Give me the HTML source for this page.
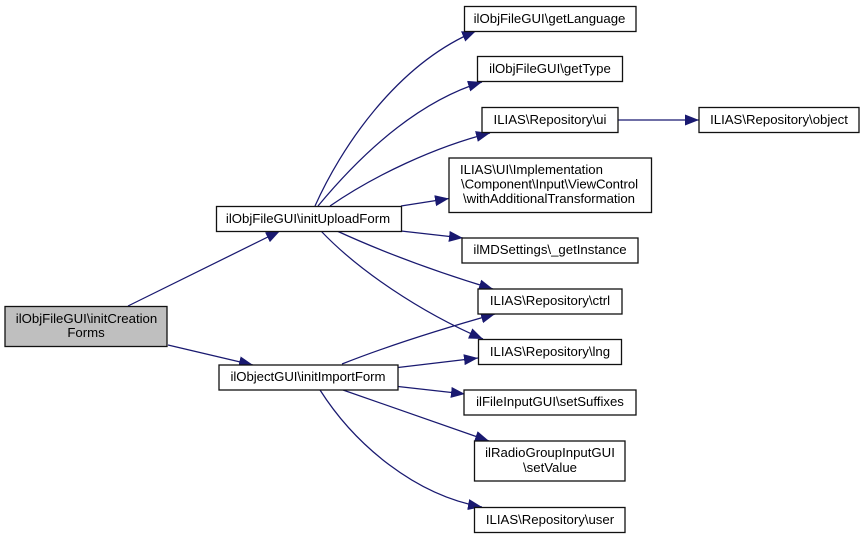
<!DOCTYPE html>
<html><head><meta charset="utf-8">
<style>
html,body{margin:0;padding:0;background:#fff}
svg{display:block}
text{font-family:"Liberation Sans",sans-serif;font-size:13.2px;fill:#000;text-anchor:middle}
rect{fill:#fff;stroke:#111;stroke-width:1.3}
path.e{fill:none;stroke:#191970;stroke-width:1.25}
</style></head><body>
<svg width="865" height="539" viewBox="0 0 865 539" xmlns="http://www.w3.org/2000/svg">
<defs>
<marker id="a" markerUnits="userSpaceOnUse" markerWidth="15" markerHeight="12" refX="14" refY="5.5" orient="auto">
<path d="M0,0 L14,5.5 L0,11 Z" fill="#191970"/>
</marker>
</defs>

<!-- edges -->
<path class="e" marker-end="url(#a)" d="M128,306 L280,231"/>
<path class="e" marker-end="url(#a)" d="M168,345 L253,365"/>
<path class="e" marker-end="url(#a)" d="M315,206 C340,150 395,65 476,31"/>
<path class="e" marker-end="url(#a)" d="M318,206 C352,165 410,104 482,82"/>
<path class="e" marker-end="url(#a)" d="M330,206 C375,175 435,147 490,133"/>
<path class="e" marker-end="url(#a)" d="M401,206 L449,198.5"/>
<path class="e" marker-end="url(#a)" d="M401,231 L463,238"/>
<path class="e" marker-end="url(#a)" d="M337,231 C385,253 440,273 493,289"/>
<path class="e" marker-end="url(#a)" d="M321,231 C358,270 420,312 483,339"/>
<path class="e" marker-end="url(#a)" d="M342,364 C390,345 445,328 495,314"/>
<path class="e" marker-end="url(#a)" d="M398,367.5 L478,358"/>
<path class="e" marker-end="url(#a)" d="M398,386.5 L465,394"/>
<path class="e" marker-end="url(#a)" d="M343,390 L489,441"/>
<path class="e" marker-end="url(#a)" d="M320,390 C355,445 415,495 482,507"/>
<path class="e" marker-end="url(#a)" d="M618,120 L699,120"/>

<!-- nodes -->
<rect x="5" y="306.5" width="162" height="40" style="fill:#bfbfbf"/>
<text x="86.5" y="323">ilObjFileGUI\initCreation</text>
<text x="86" y="337">Forms</text>

<rect x="216.5" y="206.5" width="185" height="25"/>
<text x="308" y="223">ilObjFileGUI\initUploadForm</text>

<rect x="219" y="365" width="179" height="25"/>
<text x="308" y="381" textLength="155">ilObjectGUI\initImportForm</text>

<rect x="464.5" y="6.5" width="171.5" height="25"/>
<text x="549.5" y="23">ilObjFileGUI\getLanguage</text>

<rect x="477.5" y="56.5" width="145" height="25"/>
<text x="550" y="73">ilObjFileGUI\getType</text>

<rect x="482" y="107.5" width="136" height="25"/>
<text x="550" y="124">ILIAS\Repository\ui</text>

<rect x="699" y="107.5" width="160" height="25"/>
<text x="779" y="124">ILIAS\Repository\object</text>

<rect x="449" y="158" width="202.5" height="54.5"/>
<text x="460" y="174" style="text-anchor:start">ILIAS\UI\Implementation</text>
<text x="549.5" y="188.5" textLength="177">\Component\Input\ViewControl</text>
<text x="549" y="203" textLength="172">\withAdditionalTransformation</text>

<rect x="462" y="238" width="176" height="25"/>
<text x="550" y="254">ilMDSettings\_getInstance</text>

<rect x="478" y="289" width="144" height="25"/>
<text x="550" y="305">ILIAS\Repository\ctrl</text>

<rect x="478.5" y="339.5" width="143" height="25"/>
<text x="550" y="356">ILIAS\Repository\lng</text>

<rect x="464" y="390" width="172" height="25"/>
<text x="550" y="406">ilFileInputGUI\setSuffixes</text>

<rect x="474.5" y="441" width="150.5" height="40"/>
<text x="550" y="457">ilRadioGroupInputGUI</text>
<text x="550" y="472">\setValue</text>

<rect x="474.5" y="507.5" width="150.5" height="25"/>
<text x="550" y="524">ILIAS\Repository\user</text>
</svg>
</body></html>
